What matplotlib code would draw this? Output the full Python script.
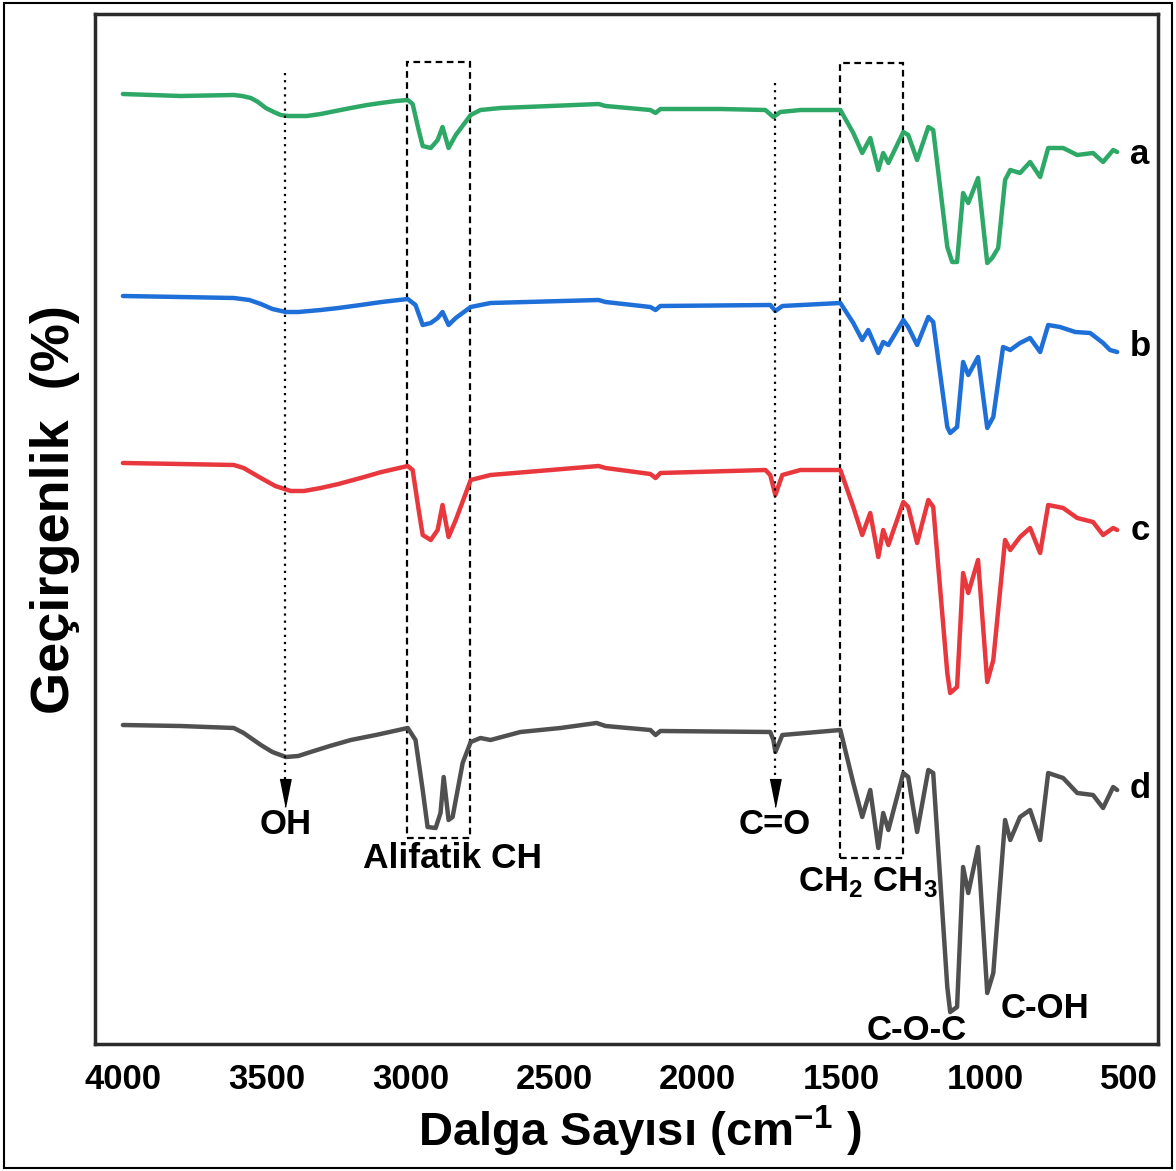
import matplotlib.pyplot as plt
from matplotlib.patches import Rectangle
import numpy as np

plt.rcParams['font.family'] = ['Liberation Sans', 'DejaVu Sans']
plt.rcParams['font.weight'] = 'bold'
plt.rcParams['mathtext.fontset'] = 'custom'
plt.rcParams['mathtext.rm'] = 'Liberation Sans:bold'
plt.rcParams['mathtext.bf'] = 'Liberation Sans:bold'

# FTIR spectra (wavenumber, transmittance, curves already stacked)
wn_a = [4000, 3800, 3614, 3585, 3555, 3530, 3503, 3475, 3451, 3425, 3399, 3360, 3312, 3260,
        3207, 3150, 3103, 3050, 3009, 2992, 2971, 2957, 2929,
        2905, 2888, 2867, 2842, 2790, 2756, 2686, 2512, 2345, 2321, 2165, 2147, 2130, 1921,
        1765, 1737, 1713, 1643, 1504, 1459, 1428, 1400, 1372, 1355, 1337, 1285, 1268, 1237,
        1198, 1181, 1132, 1115, 1098, 1077, 1059, 1025, 993, 976, 955, 931, 913, 879, 844,
        809, 781, 729, 680, 625, 590, 555, 541]
t_a = [95.2, 95.0, 95.1, 95.0, 94.8, 94.4, 93.8, 93.4, 93.1, 93.0, 93.0, 93.0, 93.2, 93.5,
       93.8, 94.1, 94.3, 94.5, 94.6, 94.2, 91.6, 90.0, 89.8,
       90.6, 91.9, 89.8, 91.1, 93.1, 93.6, 93.8, 94.0, 94.2, 94.0, 93.6, 93.3, 93.7, 93.7,
       93.6, 92.9, 93.4, 93.6, 93.6, 91.3, 89.3, 90.8, 87.6, 89.3, 88.3, 91.4, 91.1, 88.6,
       91.9, 91.6, 79.9, 78.4, 78.4, 85.3, 84.3, 86.8, 78.3, 78.8, 79.8, 86.6, 87.6, 87.3, 88.4,
       86.9, 89.8, 89.8, 89.1, 89.3, 88.4, 89.6, 89.4]

wn_b = [4000, 3800, 3614, 3560, 3520, 3480, 3433, 3390, 3312, 3250, 3173, 3100, 3009, 2982,
        2957, 2929, 2905, 2888, 2867, 2842,
        2790, 2721, 2345, 2321, 2165, 2147, 2130, 1748, 1730, 1706, 1504, 1459, 1428, 1407,
        1372, 1355, 1337, 1285, 1268, 1237, 1198, 1181, 1132, 1122, 1098, 1077, 1059, 1025,
        993, 972, 938, 913, 879, 844, 809, 781, 740, 687, 635, 590, 566, 541]
t_b = [75.0, 74.9, 74.8, 74.6, 74.2, 73.7, 73.4, 73.4, 73.6, 73.8, 74.1, 74.4, 74.7, 74.1,
       72.1, 72.3, 72.8, 73.4, 72.1, 72.8,
       73.9, 74.3, 74.6, 74.4, 73.9, 73.6, 74.0, 74.1, 73.5, 74.0, 74.3, 72.3, 70.6, 71.6,
       69.3, 70.4, 70.1, 72.6, 71.9, 70.1, 72.9, 72.4, 61.9, 61.3, 61.9, 68.4, 67.1, 68.9,
       61.8, 62.9, 69.9, 69.6, 70.3, 70.8, 69.4, 72.1, 71.9, 71.4, 71.3, 70.3, 69.6, 69.4]

wn_c = [4000, 3800, 3614, 3580, 3520, 3470, 3416, 3370, 3312, 3250, 3173, 3100, 3009, 2992,
        2971, 2957, 2929, 2905, 2888, 2867,
        2842, 2790, 2721, 2512, 2345, 2321, 2165, 2147, 2130, 1765, 1748, 1730, 1706, 1643,
        1504, 1459, 1428, 1400, 1372, 1355, 1337, 1285, 1268, 1237, 1198, 1181, 1132, 1122,
        1098, 1077, 1059, 1025, 993, 972, 931, 913, 879, 844, 809, 781, 729, 680, 625, 590,
        555, 541]
t_c = [58.3, 58.2, 58.1, 57.8, 56.8, 56.0, 55.5, 55.5, 55.8, 56.2, 56.8, 57.4, 58.0, 57.6,
       53.6, 51.1, 50.6, 51.6, 54.1, 50.9,
       52.6, 56.6, 57.1, 57.6, 58.0, 57.8, 57.2, 56.8, 57.3, 57.6, 57.1, 55.1, 57.1, 57.6,
       57.6, 53.9, 51.1, 53.3, 48.9, 51.6, 50.1, 54.4, 53.9, 50.3, 54.6, 53.9, 37.3, 35.3,
       35.9, 47.3, 45.3, 48.6, 36.4, 38.6, 50.6, 49.6, 50.9, 51.8, 49.3, 54.1, 53.8, 52.8,
       52.4, 51.1, 51.8, 51.6]

wn_d = [4000, 3800, 3614, 3580, 3520, 3480, 3433, 3390, 3347, 3280, 3207, 3120, 3009, 2982,
        2957, 2940, 2912, 2895, 2884, 2867,
        2853, 2818, 2790, 2756, 2721, 2617, 2478, 2352, 2321, 2165, 2147, 2130, 1748, 1737,
        1730, 1713, 1706, 1504, 1459, 1428, 1400, 1372, 1355, 1337, 1285, 1268, 1237, 1198,
        1181, 1132, 1122, 1098, 1077, 1059, 1025, 993, 972, 931, 913, 879, 844, 809, 781,
        729, 680, 625, 590, 555, 541]
t_d = [32.1, 32.0, 31.8, 31.3, 30.1, 29.4, 28.9, 29.0, 29.4, 30.0, 30.6, 31.1, 31.8, 30.6,
       25.6, 21.9, 21.8, 23.3, 26.9, 22.6,
       22.9, 28.3, 30.4, 30.8, 30.6, 31.4, 31.8, 32.3, 32.0, 31.6, 31.1, 31.5, 31.4, 30.6,
       29.4, 30.6, 31.1, 31.6, 26.3, 22.9, 25.6, 19.8, 23.3, 21.6, 27.3, 26.9, 21.4, 27.6,
       27.3, 5.9, 3.4, 3.9, 17.9, 15.3, 19.9, 5.3, 7.3, 22.6, 20.6, 22.9, 23.6, 20.6, 27.3,
       26.8, 25.3, 25.1, 23.8, 25.9, 25.6]

names = ['a', 'b', 'c', 'd']
name_y = [89.1, 69.9, 51.6, 25.8]
colors = ['#2ea866', '#1f6fd8', '#e8383d', '#505050']

ticks = [4000, 3500, 3000, 2500, 2000, 1500, 1000, 500]

fig = plt.figure(figsize=(11.76, 11.71), dpi=100)
ax = fig.add_axes([95 / 1176, 1 - 1044 / 1171, 1063 / 1176, 1030 / 1171])

for wn, t, c in zip([wn_a, wn_b, wn_c, wn_d], [t_a, t_b, t_c, t_d], colors):
    ax.plot(wn, t, color=c, lw=3.2, solid_joinstyle='round', solid_capstyle='round')

for n, y in zip(names, name_y):
    ax.text(462, y, n, fontsize=25, ha='center', va='center')

# dotted markers for OH and C=O
for x, y0, lab in [(3435, 97.3, 'OH'), (1731, 96.3, 'C=O')]:
    ax.plot([x, x], [y0, 26.0], color='black', lw=1.6, ls=(0, (1, 2.2)))
    ax.plot(x, 25.3, marker=[(-4, 10), (4, 10), (0, -10)], markersize=20, color='black')
    ax.text(x, 22.1, lab, fontsize=25, ha='center', va='center')

# dashed boxes
ax.add_patch(Rectangle((3012, 20.8), 2793 - 3012, 98.4 - 20.8, fill=False,
                       ls=(0, (3, 2)), lw=1.6, ec='black'))
ax.add_patch(Rectangle((1505, 18.8), 1286 - 1505, 98.3 - 18.8, fill=False,
                       ls=(0, (3, 2)), lw=1.6, ec='black'))

ax.text(2852, 18.8, 'Alifatik CH', fontsize=25.5, ha='center', va='center')
ax.text(1408, 16.4, r'CH$_\mathbf{2}$ CH$_\mathbf{3}$', fontsize=25, ha='center', va='center')
ax.text(1237, 1.6, 'C-O-C', fontsize=25, ha='center', va='center')
ax.text(792, 3.8, 'C-OH', fontsize=25, ha='center', va='center')

ax.set_xlim(4097, 399)
ax.set_ylim(0.2, 103.2)
ax.set_xticks(ticks)
ax.set_xticklabels([str(t) for t in ticks])
ax.set_yticks([])
ax.tick_params(axis='x', length=0, pad=14, labelsize=25)
for s in ax.spines.values():
    s.set_linewidth(2.5)
    s.set_color('#2a2a2a')

fig.text(640 / 1176, 1 - 1131 / 1171, r'Dalga Sayısı (cm$^\mathbf{-1}$ )', fontsize=34,
         ha='center', va='center')
fig.text(55 / 1176, 1 - 510 / 1171, 'Geçirgenlik  (%)', fontsize=39, rotation=90,
         ha='center', va='center')

fig.patches.append(Rectangle((4 / 1176, 3 / 1171), 1 - 8 / 1176, 1 - 6 / 1171, fill=False,
                             lw=1.5, ec='black', transform=fig.transFigure, figure=fig))

fig.savefig('out.png', dpi=100)
